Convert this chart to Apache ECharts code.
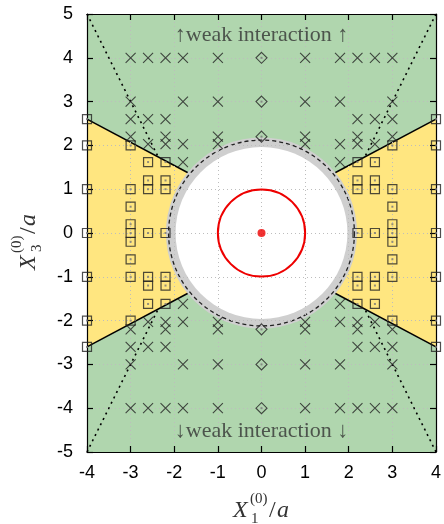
<!DOCTYPE html>
<html><head><meta charset="utf-8">
<script src="https://cdn.jsdelivr.net/npm/echarts@6/dist/echarts.min.js"></script>
<style>html,body{margin:0;padding:0;background:#fff}#c{width:444px;height:524px}</style>
</head><body><div id="c"></div>
<script>
// ---- data ----
const xRange = [-4, 4];
const yRange = [-5, 5];
const tickStep = 1;

const crossPoints = [
  [-3,4],[-2.6,4],[-2.2,4],[-1.8,4],[-1,4],[1,4],[1.8,4],[2.2,4],[2.6,4],[3,4],
  [-3,-4],[-2.6,-4],[-2.2,-4],[-1.8,-4],[-1,-4],[1,-4],[1.8,-4],[2.2,-4],[2.6,-4],[3,-4],
  [-3,3],[-1.8,3],[-1,3],[1,3],[1.8,3],[3,3],
  [-3,-3],[-1.8,-3],[-1,-3],[1,-3],[1.8,-3],[3,-3],
  [-3,2.6],[-2.6,2.6],[-2.2,2.6],[2.2,2.6],[2.6,2.6],[3,2.6],
  [-3,-2.6],[-2.6,-2.6],[-2.2,-2.6],[2.2,-2.6],[2.6,-2.6],[3,-2.6],
  [-3,2.2],[-2.2,2.2],[-1,2.2],[1,2.2],[2.2,2.2],[3,2.2],
  [-3,-2.2],[-2.2,-2.2],[-1,-2.2],[1,-2.2],[2.2,-2.2],[3,-2.2],
  [-2.6,2.03],[-2.2,2.03],[-1.8,2.03],[-1,2.03],[1,2.03],[1.8,2.03],[2.2,2.03],[2.6,2.03],
  [-2.6,-2.03],[-2.2,-2.03],[-1.8,-2.03],[-1,-2.03],[1,-2.03],[1.8,-2.03],[2.2,-2.03],[2.6,-2.03],
  [-1.8,1.62],[1.8,1.62],[-1.8,-1.62],[1.8,-1.62]
];
const squarePoints = [
  [-4,2.6],[-4,2],[-4,1],[-4,0],[-4,-1],[-4,-2],[-4,-2.6],
  [4,2.6],[4,2],[4,1],[4,0],[4,-1],[4,-2],[4,-2.6],
  [-3,2],[-3,1],[-3,0.6],[-3,0.2],[-3,0],[-3,-0.2],[-3,-0.6],[-3,-1],[-3,-2],
  [3,2],[3,1],[3,0.6],[3,0.2],[3,0],[3,-0.2],[3,-0.6],[3,-1],[3,-2],
  [-2.6,1.62],[-2.6,1.2],[-2.6,1],[-2.6,0],[-2.6,-1],[-2.6,-1.2],[-2.6,-1.62],
  [-2.2,1.62],[-2.2,1.2],[-2.2,1],[-2.2,0],[-2.2,-1],[-2.2,-1.2],[-2.2,-1.62],
  [2.6,1.62],[2.6,1.2],[2.6,1],[2.6,0],[2.6,-1],[2.6,-1.2],[2.6,-1.62],
  [2.2,1.62],[2.2,1.2],[2.2,1],[2.2,0],[2.2,-1],[2.2,-1.2],[2.2,-1.62]
];
const diamondPoints = [[0,4],[0,3],[0,2.2],[0,-2.2],[0,-3],[0,-4]];
const originPoint = [[0,0]];

const yellowLeft  = [[-4,2.6],[-1.6,1.33],[-1.6,-1.33],[-4,-2.6]];
const yellowRight = [[4,2.6],[1.6,1.33],[1.6,-1.33],[4,-2.6]];
const boundaryLines = [
  [[-4,2.6],[-1.6,1.33]], [[-4,-2.6],[-1.6,-1.33]],
  [[4,2.6],[1.6,1.33]],   [[4,-2.6],[1.6,-1.33]]
];
const dottedLines = [
  [[-4,5],[-2.3,1.6]], [[4,5],[2.3,1.6]],
  [[-4,-5],[-2.3,-1.6]], [[4,-5],[2.3,-1.6]]
];
const grayOuterR = 2.19;
const whiteR = 1.97;
const dashedR = 2.13;
const redR = 1;

const noteTop = '↑weak interaction ↑';
const noteBottom = '↓weak interaction ↓';
const notePos = [[0, 4.52], [0, -4.52]];

// ---- chart ----
const chart = echarts.init(document.getElementById('c'), null, {renderer:'canvas'});

function circleSeries(r, style, z) {
  return {
    type:'custom', coordinateSystem:'cartesian2d', z: z, silent:true, clip:false,
    data: originPoint,
    renderItem: function(params, api) {
      const c = api.coord([api.value(0), api.value(1)]);
      const rp = api.size([r, 0])[0];
      return {type:'circle', shape:{cx:c[0], cy:c[1], r:rp}, style: style};
    }
  };
}

const polys = [yellowLeft, yellowRight];
const series = [];

dottedLines.forEach(function(seg){
  series.push({type:'line', data:seg, z:1, symbol:'none', silent:true, animation:false,
    lineStyle:{color:'#000', width:1.6, type:[2,4]}});
});
series.push({
  type:'custom', coordinateSystem:'cartesian2d', z:2, silent:true, clip:false,
  data: [[0,0],[1,0]],
  renderItem: function(params, api) {
    const pts = polys[params.dataIndex].map(function(p){ return api.coord(p); });
    return {type:'polygon', shape:{points:pts}, style:{fill:'#ffe680'}};
  }
});
boundaryLines.forEach(function(seg){
  series.push({type:'line', data:seg, z:3, symbol:'none', silent:true,
    lineStyle:{color:'#000', width:1.5, type:'solid'}});
});
series.push(circleSeries(grayOuterR, {fill:'#cfcfcf'}, 4));
series.push(circleSeries(whiteR, {fill:'#ffffff'}, 5));
series.push(circleSeries(dashedR, {fill:'none', stroke:'#222', lineWidth:1.3, lineDash:[4,3]}, 6));
series.push(circleSeries(redR, {fill:'none', stroke:'#ee0000', lineWidth:2}, 8));
series.push({type:'scatter', data:originPoint, z:9, symbol:'circle', symbolSize:8, silent:true,
  itemStyle:{color:'#ee0000'}});
series.push({type:'scatter', data:crossPoints, z:10, clip:false, silent:true,
  symbol:'path://M0,0L10,10M10,0L0,10', symbolSize:10,
  itemStyle:{color:'rgba(0,0,0,0)', borderColor:'#222', borderWidth:1.1}});
series.push({type:'scatter', data:squarePoints, z:10, clip:false, silent:true,
  symbol:'rect', symbolSize:9,
  itemStyle:{color:'rgba(0,0,0,0)', borderColor:'#222', borderWidth:1.2}});
series.push({type:'scatter', data:diamondPoints, z:10, clip:false, silent:true,
  symbol:'diamond', symbolSize:[11,11],
  itemStyle:{color:'rgba(0,0,0,0)', borderColor:'#222', borderWidth:1.1}});
series.push({type:'scatter', data:squarePoints.concat(diamondPoints), z:11, clip:false, silent:true,
  symbol:'rect', symbolSize:2, itemStyle:{color:'#777'}});
series.push({type:'scatter', z:12, silent:true, symbolSize:0,
  data:[{value:notePos[0], label:{formatter:noteTop}}, {value:notePos[1], label:{formatter:noteBottom}}],
  label:{show:true, position:'inside', fontFamily:'Liberation Serif', fontSize:22, color:'#333'}});

const axisCommon = {
  type:'value', interval: tickStep, z:7,
  axisLine:{show:true, onZero:false, lineStyle:{color:'#000', width:1.2}},
  axisTick:{show:true, inside:true, length:6, lineStyle:{color:'#000', width:1.2}},
};

const option = {
  animation:false,
  backgroundColor:'#fff',
  grid:{left:87, right:5, top:14, bottom:72, show:true, backgroundColor:'#b0d6ae', borderWidth:0},
  xAxis:[
    Object.assign({}, axisCommon, {min:xRange[0], max:xRange[1], position:'bottom',
      axisLabel:{show:true, fontFamily:'Liberation Sans', fontSize:18, color:'#000', margin:12},
      splitLine:{show:true, lineStyle:{color:'#bdbdbd', width:1, type:[1,3]}}}),
    Object.assign({}, axisCommon, {min:xRange[0], max:xRange[1], position:'top',
      axisLabel:{show:false}, splitLine:{show:false}})
  ],
  yAxis:[
    Object.assign({}, axisCommon, {min:yRange[0], max:yRange[1], position:'left',
      axisLabel:{show:true, fontFamily:'Liberation Sans', fontSize:18, color:'#000', margin:14},
      splitLine:{show:true, lineStyle:{color:'#bdbdbd', width:1, type:[1,3]}}}),
    Object.assign({}, axisCommon, {min:yRange[0], max:yRange[1], position:'right',
      axisLabel:{show:false}, splitLine:{show:false}})
  ],
  series: series,
  graphic: [
    {type:'group', x:233, y:511, children:[
      {type:'text', x:0, y:0, style:{text:'X', font:'italic 24px "Liberation Serif"', fill:'#333', verticalAlign:'middle'}},
      {type:'text', x:17, y:-12, style:{text:'(0)', font:'15px "Liberation Serif"', fill:'#333', verticalAlign:'middle'}},
      {type:'text', x:18, y:8, style:{text:'1', font:'15px "Liberation Serif"', fill:'#333', verticalAlign:'middle'}},
      {type:'text', x:36, y:0, style:{text:'/', font:'24px "Liberation Serif"', fill:'#333', verticalAlign:'middle'}},
      {type:'text', x:44, y:0, style:{text:'a', font:'italic 24px "Liberation Serif"', fill:'#333', verticalAlign:'middle'}}
    ]},
    {type:'group', x:29, y:270, rotation:Math.PI/2, children:[
      {type:'text', x:0, y:0, style:{text:'X', font:'italic 24px "Liberation Serif"', fill:'#333', verticalAlign:'middle'}},
      {type:'text', x:17, y:-12, style:{text:'(0)', font:'15px "Liberation Serif"', fill:'#333', verticalAlign:'middle'}},
      {type:'text', x:18, y:8, style:{text:'3', font:'15px "Liberation Serif"', fill:'#333', verticalAlign:'middle'}},
      {type:'text', x:36, y:0, style:{text:'/', font:'24px "Liberation Serif"', fill:'#333', verticalAlign:'middle'}},
      {type:'text', x:44, y:0, style:{text:'a', font:'italic 24px "Liberation Serif"', fill:'#333', verticalAlign:'middle'}}
    ]}
  ]
};
chart.setOption(option);
</script>
</body></html>
